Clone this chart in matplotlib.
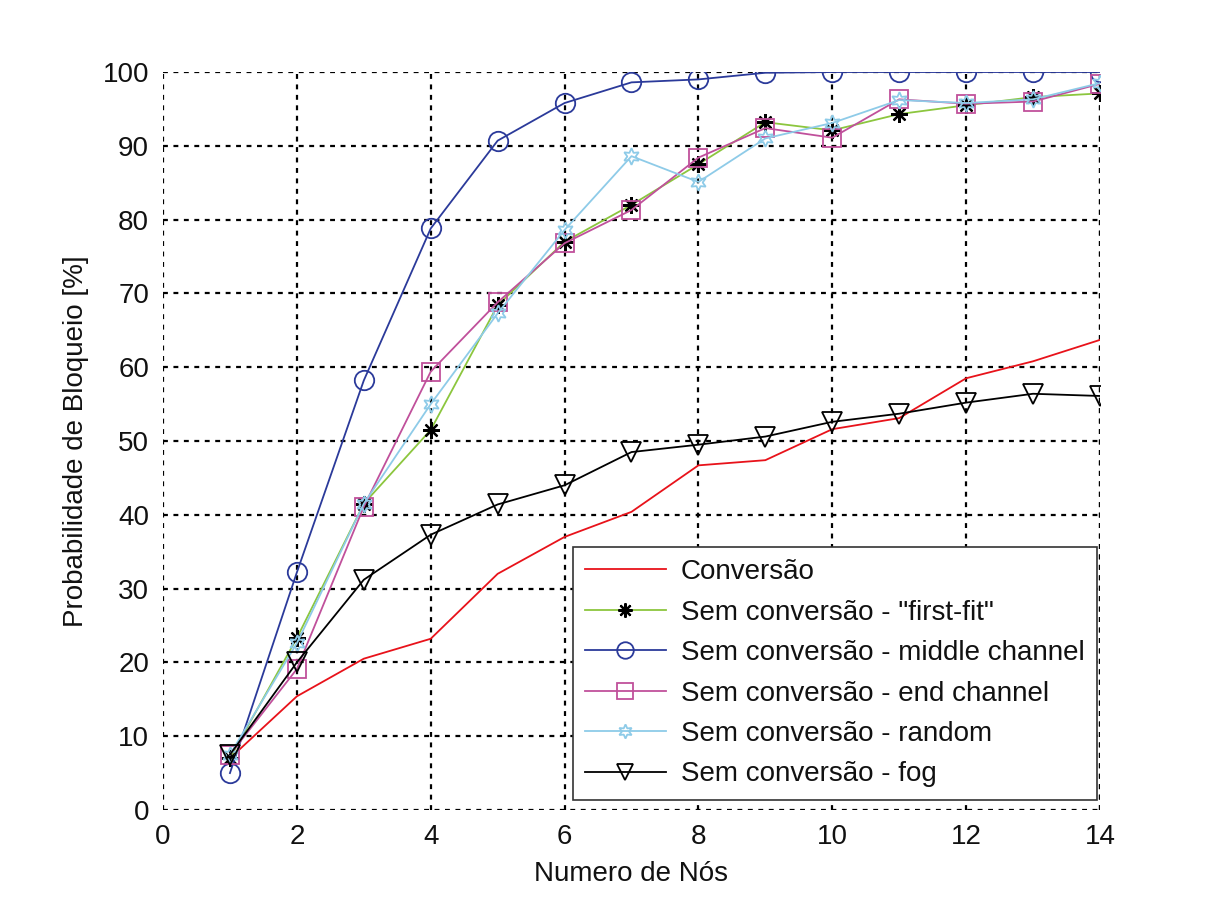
import matplotlib
matplotlib.use("Agg")
import matplotlib.pyplot as plt

nodes = list(range(1, 15))
conversao = [7.0, 15.4, 20.5, 23.2, 32.0, 37.0, 40.4, 46.7, 47.4, 51.6, 53.1, 58.5, 60.8, 63.7]
first_fit = [7.0, 23.3, 41.5, 51.5, 68.4, 77.0, 82.0, 87.5, 93.2, 92.1, 94.3, 95.5, 96.6, 97.1]
middle = [5.0, 32.2, 58.2, 78.8, 90.7, 95.8, 98.6, 99.0, 99.9, 100.0, 100.0, 100.0, 100.0, 100.0]
end_ch = [7.5, 19.1, 41.1, 59.4, 68.8, 76.8, 81.3, 88.4, 92.4, 91.1, 96.3, 95.7, 96.0, 98.4]
random_ch = [7.5, 22.6, 41.5, 55.0, 67.3, 78.6, 88.6, 85.1, 91.0, 93.1, 96.2, 95.8, 96.3, 98.5]
fog = [7.5, 20.0, 31.2, 37.3, 41.4, 44.0, 48.5, 49.5, 50.6, 52.6, 53.7, 55.2, 56.4, 56.1]

labels = ["Conversão", 'Sem conversão - "first-fit"', "Sem conversão - middle channel",
          "Sem conversão - end channel", "Sem conversão - random", "Sem conversão - fog"]
xticks = list(range(0, 15, 2))
yticks = list(range(0, 101, 10))

plt.rcParams['font.family'] = ['Liberation Sans', 'DejaVu Sans']

fig = plt.figure(figsize=(12.13, 9.06), dpi=100)
ax = fig.add_axes([0.1344, 0.1060, 0.7724, 0.8145])

lw = 1.3
ax.plot(nodes, conversao, color='#e8121a', lw=lw, label=labels[0])
ax.plot(nodes, first_fit, color='#8cc63e', lw=lw, marker=(8, 2, 0), markersize=12,
        markerfacecolor='black', markeredgecolor='black', markeredgewidth=1.6, label=labels[1])
ax.plot(nodes, middle, color='#2b3a9a', lw=lw, marker='o', markersize=14,
        markerfacecolor='none', markeredgewidth=1.3, label=labels[2])
ax.plot(nodes, end_ch, color='#c0509b', lw=lw, marker='s', markersize=13,
        markerfacecolor='none', markeredgewidth=1.3, label=labels[3])
ax.plot(nodes, random_ch, color='#8ecbe8', lw=lw, marker=(6, 1, 0), markersize=12,
        markerfacecolor='none', markeredgewidth=1.3, label=labels[4])
ax.plot(nodes, fog, color='black', lw=lw, marker='v', markersize=14,
        markerfacecolor='none', markeredgewidth=1.3, label=labels[5])

ax.set_xlim(0, 14)
ax.set_ylim(0, 100)
ax.set_xticks(xticks)
ax.set_yticks(yticks)
for s in ax.spines.values():
    s.set_visible(False)
ax.tick_params(length=0, labelsize=20, pad=10, colors='#111111')

for xv in xticks:
    ax.axvline(xv, color='black', lw=1.6, ls=(0, (2.2, 2.5)), zorder=0.5)
ax.axvline(14, color='black', lw=1.6, ls=(0, (2.2, 2.5)), zorder=0.5)
for yv in yticks:
    ax.axhline(yv, color='black', lw=1.6, ls=(0, (2.2, 2.5)), zorder=0.5)

ax.set_xlabel("Numero de Nós", fontsize=20, labelpad=8, color='#111111')
ax.set_ylabel("Probabilidade de Bloqueio [%]", fontsize=20, labelpad=10, color='#111111')

leg = ax.legend(loc='lower right', bbox_to_anchor=(0.997, 0.0136), borderaxespad=0,
                fontsize=20, fancybox=False, framealpha=1, edgecolor='#333333',
                handlelength=2.9, handletextpad=0.55, labelspacing=0.52, borderpad=0.45,
                markerscale=0.85)
leg.get_frame().set_linewidth(1.2)
for t in leg.get_texts():
    t.set_color('#111111')

fig.savefig("out.png", dpi=100, facecolor='white')
